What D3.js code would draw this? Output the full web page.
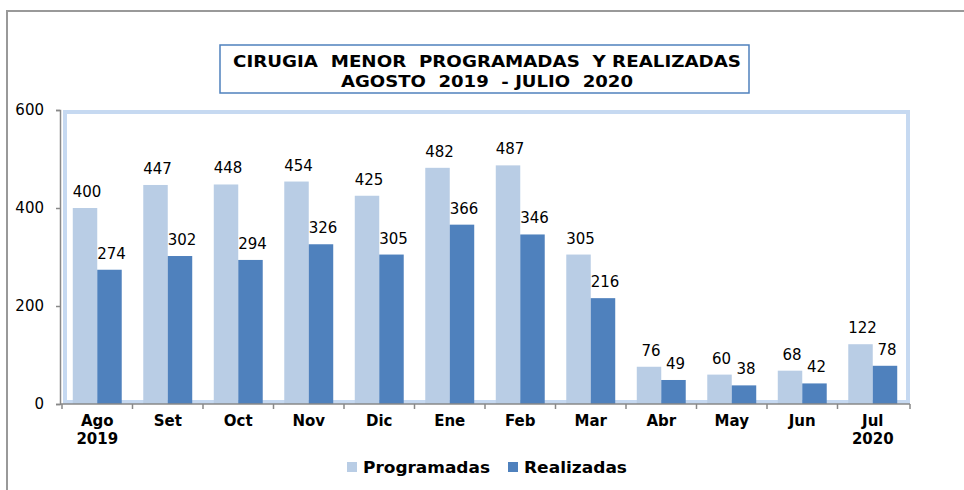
<!DOCTYPE html>
<html>
<head>
<meta charset="utf-8">
<script src="https://cdn.jsdelivr.net/npm/d3@7"></script>
<style>
  body { margin: 0; background: #fff; }
  text { font-family: "DejaVu Sans", Verdana, sans-serif; fill: #000; }
</style>
</head>
<body>
<svg width="964" height="490"></svg>
<script>
var months = ['Ago', 'Set', 'Oct', 'Nov', 'Dic', 'Ene', 'Feb', 'Mar', 'Abr', 'May', 'Jun', 'Jul'];
var monthYears = ['2019', '', '', '', '', '', '', '', '', '', '', '2020'];
var programadas = [400, 447, 448, 454, 425, 482, 487, 305, 76, 60, 68, 122];
var realizadas = [274, 302, 294, 326, 305, 366, 346, 216, 49, 38, 42, 78];
var seriesNames = ['Programadas', 'Realizadas'];
var yTicks = [0, 200, 400, 600];

var colors = ['#B9CDE5', '#4F81BD'];

var svg = d3.select('svg'),
  width = +svg.attr('width'),
  height = +svg.attr('height');

// outer frame (top + left only)
svg.append('path')
  .attr('d', 'M7,' + height + ' V11 H' + width)
  .attr('fill', 'none')
  .attr('stroke', '#999')
  .attr('stroke-width', 2);

// title box
svg.append('rect')
  .attr('x', 220).attr('y', 45)
  .attr('width', 529).attr('height', 48)
  .attr('fill', '#fff')
  .attr('stroke', '#4F81BD')
  .attr('stroke-width', 1.5);

svg.append('text')
  .attr('x', 487).attr('y', 67)
  .attr('text-anchor', 'middle')
  .attr('font-size', 15).attr('font-weight', 'bold')
  .attr('textLength', 508).attr('lengthAdjust', 'spacingAndGlyphs')
  .style('white-space', 'pre')
  .text('CIRUGIA  MENOR  PROGRAMADAS  Y REALIZADAS');

svg.append('text')
  .attr('x', 487).attr('y', 87)
  .attr('text-anchor', 'middle')
  .attr('font-size', 15).attr('font-weight', 'bold')
  .attr('textLength', 292).attr('lengthAdjust', 'spacingAndGlyphs')
  .style('white-space', 'pre')
  .text('AGOSTO  2019  - JULIO  2020');

var plotLeft = 62, plotRight = 908, plotTop = 110, plotBottom = 404;

var x = d3.scaleBand().domain(months).range([plotLeft, plotRight]).padding(0);
var xs = d3.scaleBand().domain(seriesNames).range([0, x.bandwidth()])
  .paddingInner(0).paddingOuter(0.44);
var y = d3.scaleLinear().domain([0, 600]).range([plotBottom, plotTop]);

// light blue wall
svg.append('path')
  .attr('d', 'M' + (plotLeft + 3) + ',' + (plotBottom - 2) + ' V' + (plotTop + 2) + ' H' + plotRight + ' V' + (plotBottom - 2) + ' Z')
  .attr('fill', 'none')
  .attr('stroke', '#C6D9F1')
  .attr('stroke-width', 4);

var data = months.map(function(m, i) {
  return { month: m, values: [programadas[i], realizadas[i]] };
});

var groups = svg.selectAll('.grp')
  .data(data)
  .enter()
  .append('g')
  .attr('class', 'grp')
  .attr('transform', d => `translate(${x(d.month)},0)`);

groups.selectAll('rect')
  .data(d => d.values.map((v, k) => ({ name: seriesNames[k], value: v, k: k })))
  .enter()
  .append('rect')
  .attr('x', d => xs(d.name))
  .attr('y', d => y(d.value))
  .attr('width', xs.bandwidth())
  .attr('height', d => y(0) - y(d.value))
  .attr('fill', d => colors[d.k]);

groups.selectAll('.lbl')
  .data(d => d.values.map((v, k) => ({ name: seriesNames[k], value: v })))
  .enter()
  .append('text')
  .attr('class', 'lbl')
  .attr('x', d => xs(d.name) + xs.bandwidth() / 2 + 2)
  .attr('y', d => y(d.value) - 11)
  .attr('text-anchor', 'middle')
  .attr('font-size', 15)
  .text(d => d.value);

// y axis
var yAxis = svg.append('g')
  .attr('transform', `translate(${plotLeft - 2},0)`)
  .call(d3.axisLeft(y).tickValues(yTicks).tickSize(4).tickPadding(12));
yAxis.selectAll('path, line').attr('stroke', '#888').attr('stroke-width', 1.5);
yAxis.selectAll('text').attr('font-size', 15).attr('font-family', '"DejaVu Sans", Verdana, sans-serif').attr('fill', '#000');

// x axis: baseline and ticks at category boundaries
var xAxis = svg.append('g').attr('transform', `translate(0,${plotBottom})`);
xAxis.append('line')
  .attr('x1', plotLeft - 2).attr('x2', plotRight + 2)
  .attr('stroke', '#888').attr('stroke-width', 1.5);
xAxis.selectAll('.tk')
  .data(months.concat(['end']))
  .enter()
  .append('line')
  .attr('x1', d => d === 'end' ? plotRight + 2 : x(d))
  .attr('x2', d => d === 'end' ? plotRight + 2 : x(d))
  .attr('y1', 0).attr('y2', 5)
  .attr('stroke', '#888').attr('stroke-width', 1.5);

var cats = xAxis.selectAll('.cat')
  .data(months)
  .enter()
  .append('text')
  .attr('class', 'cat')
  .attr('text-anchor', 'middle')
  .attr('font-size', 15).attr('font-weight', 'bold');
cats.append('tspan')
  .attr('x', d => x(d) + x.bandwidth() / 2)
  .attr('y', 22)
  .text(d => d);
cats.append('tspan')
  .attr('x', d => x(d) + x.bandwidth() / 2)
  .attr('y', 40)
  .text((d, i) => monthYears[i]);

// legend
var legend = svg.append('g');
var legX = [347, 508];
var legLen = [127, 103];
seriesNames.forEach(function(name, i) {
  legend.append('rect')
    .attr('x', legX[i]).attr('y', 462)
    .attr('width', 10).attr('height', 10)
    .attr('fill', colors[i]);
  legend.append('text')
    .attr('x', legX[i] + 16).attr('y', 473)
    .attr('font-size', 16).attr('font-weight', 'bold')
    .attr('textLength', legLen[i]).attr('lengthAdjust', 'spacingAndGlyphs')
    .text(name);
});
</script>
</body>
</html>
